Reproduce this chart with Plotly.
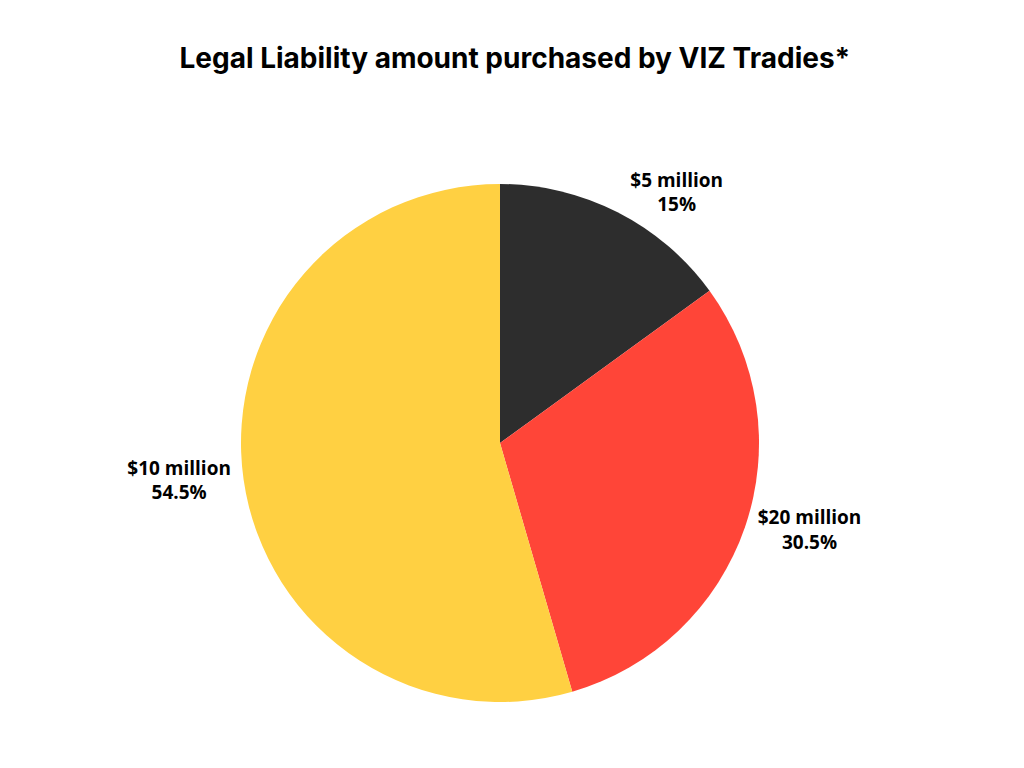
import plotly.graph_objects as go

labels = ["$5 million", "$20 million", "$10 million"]
values = [15, 30.5, 54.5]
colors = ["#2d2d2d", "#ff4538", "#ffd042"]

fig = go.Figure(go.Pie(
    labels=labels,
    values=values,
    sort=False,
    direction="clockwise",
    rotation=0,
    marker=dict(colors=colors, line=dict(width=0)),
    texttemplate="<b>%{label}<br>%{value}%</b>",
    textposition="outside",
    textfont=dict(family="Open Sans", size=19, color="#000000"),
    hoverinfo="label+value",
    domain=dict(x=[233 / 1024, 751 / 1024], y=[74 / 768, 592 / 768]),
    showlegend=False,
))

fig.update_layout(
    title=dict(text="<b>Legal Liability amount purchased by VIZ Tradies*</b>",
               x=0.495, xanchor="center", y=1 - 50 / 768, yanchor="middle",
               font=dict(family="Inter", size=28, color="#000000")),
    width=1024, height=768,
    margin=dict(l=0, r=0, t=0, b=0),
    paper_bgcolor="white",
    plot_bgcolor="white",
)

fig.write_html("out.html")
